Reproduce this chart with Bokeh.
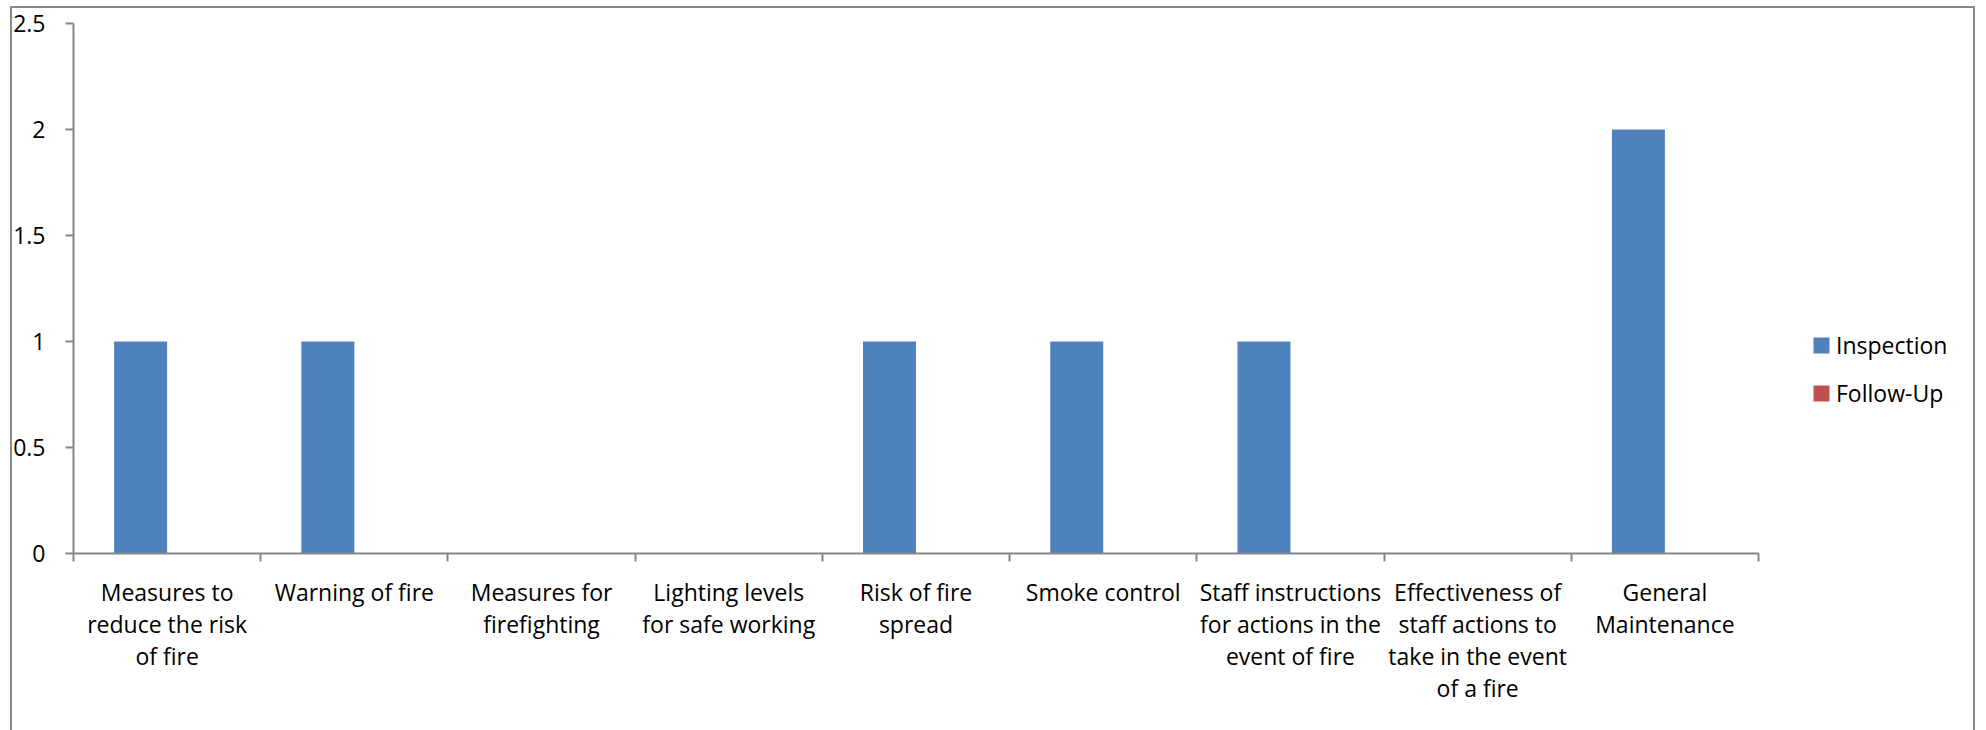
from bokeh.plotting import figure
from bokeh.models import (Range1d, FixedTicker, LinearAxis, ColumnDataSource, Legend, LegendItem,
                          InlineStyleSheet)
from bokeh.transform import dodge
from bokeh.embed import file_html
from bokeh.resources import INLINE

categories = [
    "Measures to\nreduce the risk\nof fire",
    "Warning of fire",
    "Measures for\nfirefighting",
    "Lighting levels\nfor safe working",
    "Risk of fire\nspread",
    "Smoke control",
    "Staff instructions\nfor actions in the\nevent of fire",
    "Effectiveness of\nstaff actions to\ntake in the event\nof a fire",
    "General\nMaintenance",
]
inspection = [1, 1, 0, 0, 1, 1, 1, 0, 2]
follow_up = [0, 0, 0, 0, 0, 0, 0, 0, 0]
y_ticks = [0, 0.5, 1, 1.5, 2, 2.5]
y_tick_labels = ["0", "0.5", "1", "1.5", "2", "2.5"]
series_names = ["Inspection", "Follow-Up"]
colors = ["#4F81BD", "#C0504D"]

FONT = "Open Sans"
FS = "23px"
GRAY = "#868686"

W, H = 1986, 730
L, R, T, B = 73, 1758, 23, 553   # plot-area edges in pixels

n = len(categories)
# frame runs to the right edge of the canvas; data range is widened so that
# categories 0..n still occupy pixels L..R
x_end = n * (W - L) / (R - L)

pos = [i + 0.5 for i in range(n)]
src = ColumnDataSource(dict(x=pos, inspection=inspection, follow=follow_up))

p = figure(width=W, height=H, output_backend="svg", toolbar_location=None,
           x_range=Range1d(0, x_end), y_range=Range1d(0, 2.5),
           min_border_left=L, min_border_right=0, min_border_top=T, min_border_bottom=H - B,
           x_axis_type=None, y_axis_type=None)
p.outline_line_color = None
p.background_fill_color = "white"
p.border_fill_color = "white"

bw = 0.283
r1 = p.vbar(x=dodge("x", -bw / 2, range=p.x_range), top="inspection", width=bw, source=src,
            fill_color=colors[0], line_color=None)
r2 = p.vbar(x=dodge("x", bw / 2, range=p.x_range), top="follow", width=bw, source=src,
            fill_color=colors[1], line_color=None)

yax = LinearAxis(ticker=FixedTicker(ticks=y_ticks, minor_ticks=[]))
yax.major_label_overrides = {t: s for t, s in zip(y_ticks, y_tick_labels)}
yax.axis_line_color = GRAY
yax.axis_line_width = 2
yax.major_tick_line_color = GRAY
yax.major_tick_line_width = 2
yax.major_tick_out = 8
yax.major_tick_in = 0
yax.major_label_standoff = 20
yax.major_label_text_font = FONT
yax.major_label_text_font_size = FS
yax.major_label_text_color = "black"
p.add_layout(yax, "left")

xax = LinearAxis(ticker=FixedTicker(ticks=pos, minor_ticks=list(range(n + 1))), bounds=(0, n))
xax.major_label_overrides = {t: s for t, s in zip(pos, categories)}
xax.axis_line_color = GRAY
xax.axis_line_width = 2
xax.major_tick_out = 0
xax.major_tick_in = 0
xax.minor_tick_line_color = GRAY
xax.minor_tick_line_width = 2
xax.minor_tick_out = 8
xax.minor_tick_in = 0
xax.major_label_standoff = 14
xax.major_label_text_font = FONT
xax.major_label_text_font_size = FS
xax.major_label_text_color = "black"
xax.major_label_text_line_height = 1.0
p.add_layout(xax, "below")

p.ygrid.ticker = FixedTicker(ticks=y_ticks)
p.ygrid.grid_line_color = GRAY
p.ygrid.grid_line_width = 2
p.ygrid.cross_bounds = (0, n)
p.xgrid.grid_line_color = None

legend = Legend(items=[LegendItem(label=series_names[0], renderers=[r1]),
                       LegendItem(label=series_names[1], renderers=[r2])],
                location=(1811 - L, 144))
legend.glyph_width = 20
legend.glyph_height = 20
legend.label_standoff = 5
legend.spacing = 16
legend.padding = 0
legend.margin = 0
legend.border_line_color = None
legend.background_fill_alpha = 0
legend.label_text_font = FONT
legend.label_text_font_size = FS
legend.label_text_color = "black"
p.add_layout(legend, "center")

p.stylesheets = [InlineStyleSheet(css="""
:host { position: relative; }
:host::after {
  content: ""; position: absolute; left: 10px; top: 6px; width: 1961px; height: 760px;
  border: 2px solid #888888; pointer-events: none; box-sizing: content-box;
}
""")]

open("out.html", "w").write(file_html(p, INLINE))
